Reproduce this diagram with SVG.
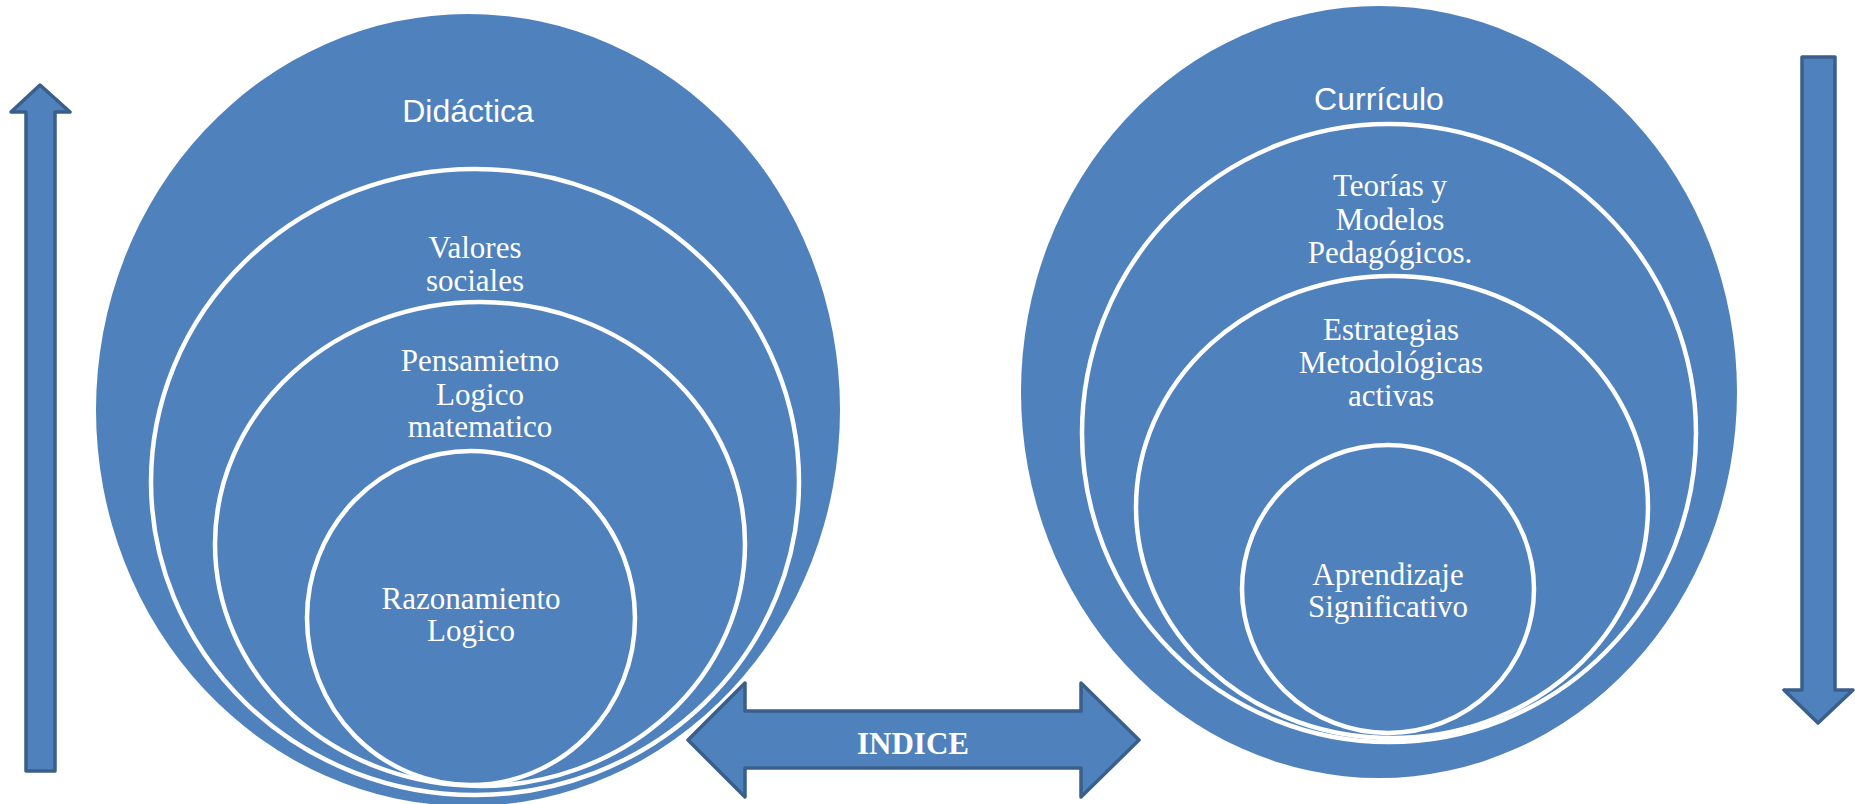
<svg xmlns="http://www.w3.org/2000/svg" width="1855" height="804" viewBox="0 0 1855 804">
<style>
.big{fill:#4F81BD;stroke:none}
.ring{fill:#4F81BD;stroke:#FFFFFF;stroke-width:4.5}
.arr{fill:#4F81BD;stroke:#3A5F8B;stroke-width:3.5;stroke-linejoin:round}
.sans{font-family:"Liberation Sans","Open Sans",sans-serif;font-size:32px;fill:#FFFFFF;text-anchor:middle}
.serif{font-family:"Liberation Serif","Times New Roman",serif;font-size:31px;fill:#FFFFFF;text-anchor:middle}
.bold{font-family:"Liberation Serif","Times New Roman",serif;font-size:31px;font-weight:bold;fill:#FFFFFF;text-anchor:middle}
</style>
<rect width="1855" height="804" fill="#FFFFFF"/>
<g id="didactica">
<ellipse class="big" cx="468" cy="410" rx="372" ry="396"/>
<text class="sans" x="468" y="122">Didáctica</text>
</g>
<g id="valores">
<ellipse class="ring" cx="475" cy="482" rx="324" ry="313"/>
<text class="serif" x="475" y="258">Valores</text>
<text class="serif" x="475" y="291">sociales</text>
</g>
<g id="pensamiento">
<ellipse class="ring" cx="480" cy="544" rx="265" ry="242"/>
<text class="serif" x="480" y="371">Pensamietno</text>
<text class="serif" x="480" y="405">Logico</text>
<text class="serif" x="480" y="437">matematico</text>
</g>
<g id="razonamiento">
<ellipse class="ring" cx="471" cy="618" rx="164" ry="167"/>
<text class="serif" x="471" y="609">Razonamiento</text>
<text class="serif" x="471" y="641">Logico</text>
</g>
<g id="curriculo">
<ellipse class="big" cx="1379" cy="392" rx="358" ry="386"/>
<text class="sans" x="1379" y="110">Currículo</text>
</g>
<g id="teorias">
<ellipse class="ring" cx="1389" cy="433" rx="307" ry="309"/>
<text class="serif" x="1390" y="196">Teorías y</text>
<text class="serif" x="1390" y="230">Modelos</text>
<text class="serif" x="1390" y="263">Pedagógicos.</text>
</g>
<g id="estrategias">
<ellipse class="ring" cx="1392" cy="507" rx="256" ry="231"/>
<text class="serif" x="1391" y="340">Estrategias</text>
<text class="serif" x="1391" y="373">Metodológicas</text>
<text class="serif" x="1391" y="406">activas</text>
</g>
<g id="aprendizaje">
<ellipse class="ring" cx="1388" cy="589" rx="146" ry="144"/>
<text class="serif" x="1388" y="585">Aprendizaje</text>
<text class="serif" x="1388" y="617">Significativo</text>
</g>
<g id="connectors">
<path id="arrow-up" class="arr" d="M26,771 L26,112 L11,112 L40,85 L70,112 L55,112 L55,771 Z"/>
<path id="arrow-down" class="arr" d="M1802,57 L1835,57 L1835,690 L1853,690 L1818,723 L1784,690 L1802,690 Z"/>
<g id="indice">
<path class="arr" d="M688,740 L745,683 L745,711 L1081,711 L1081,683 L1139,740 L1081,797 L1081,768 L745,768 L745,797 Z"/>
<text class="bold" x="913" y="754">INDICE</text>
</g>
</g>
</svg>
